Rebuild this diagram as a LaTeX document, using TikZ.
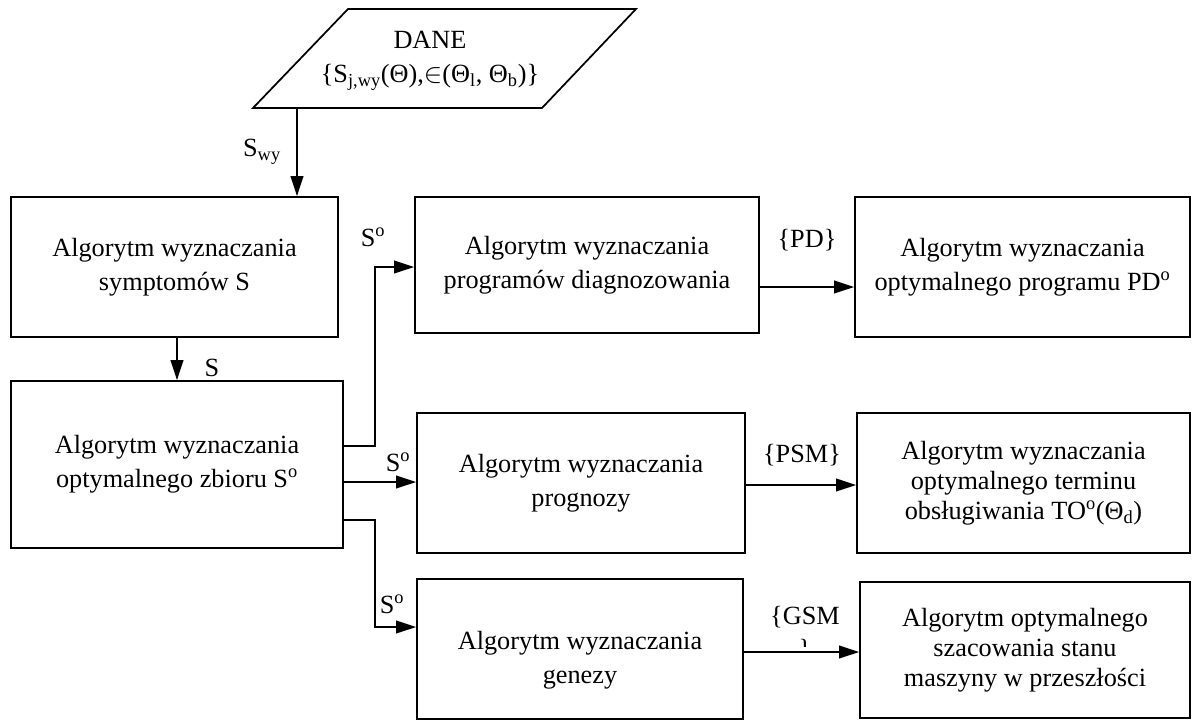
\documentclass[tikz,border=0pt]{standalone}
\usepackage{fontspec}
\setmainfont{Liberation Serif}
\usetikzlibrary{arrows.meta}
\tikzset{
  sz/.style 2 args={minimum width=#1*0.75pt, minimum height=#2*0.75pt},
  box/.style={draw, line width=1.3pt, rectangle, align=center, inner sep=0pt},
  three/.style={font=\fontsize{19.7}{22.5}\selectfont},
  conn/.style={line width=1.3pt},
  arr/.style={conn, -{Triangle[length=15pt,width=9.5pt]}},
  lbl/.style={inner sep=0pt, align=center}
}
\begin{document}
\begin{tikzpicture}[x=0.75pt,y=-0.75pt,
  every node/.style={font=\fontsize{19.7}{25.5}\selectfont}]
\useasboundingbox (0,0) rectangle (1204,719);

% data parallelogram
\coordinate (p1) at (253,108);
\coordinate (p2) at (542,108);
\coordinate (p3) at (636,9);
\coordinate (p4) at (348,9);
\draw[conn] (p1) -- (p2) -- (p3) -- (p4) -- cycle;
\node[lbl] (dane) at (430,61) {DANE\\\{S\textsubscript{j,wy}(Θ),$\in$(Θ\textsubscript{l}, Θ\textsubscript{b})\}};

% boxes
\node[box,sz={327}{140}] (b1) at (174.5,267) {Algorytm wyznaczania\\symptomów S};
\node[box,sz={332}{167}] (b2) at (177,464.5) {Algorytm wyznaczania\\optymalnego zbioru S\textsuperscript{o}};
\node[box,sz={344}{136}] (pd) at (587,265) {Algorytm wyznaczania\\programów diagnozowania};
\node[box,sz={335}{140}] (pdo) at (1022.5,267) {Algorytm wyznaczania\\optymalnego programu PD\textsuperscript{o}};
\node[box,sz={328}{140}] (pr) at (581,483) {Algorytm wyznaczania\\prognozy};
\node[box,three,sz={333}{140}] (to) at (1023.5,483) {Algorytm wyznaczania\\optymalnego terminu\\obsługiwania TO\textsuperscript{o}(Θ\textsubscript{d})};
\node[box,sz={326}{140}] (ge) at (580,649) {};
\node[lbl] (get) at (580,660) {Algorytm wyznaczania\\genezy};
\node[box,three,sz={330}{136}] (sz) at (1025,650) {Algorytm optymalnego\\szacowania stanu\\maszyny w przeszłości};

% connectors
\coordinate (dout) at (297,108);
\draw[arr] (dout) -- (dout |- b1.north);
\node[lbl] (lswy) at (262,152) {S\textsubscript{wy}};

\coordinate (s1) at (177,337);
\draw[arr] (s1) -- (s1 |- b2.north);
\node[lbl] (ls) at (212,368) {S};

\coordinate (u0) at (343,446);
\coordinate (ux) at (375,267);
\draw[arr] (u0) -| (ux) -- (ux -| pd.west);
\node[lbl] (lso1) at (373,237) {S\textsuperscript{o}};

\coordinate (m0) at (343,482);
\draw[arr] (m0) -- (m0 -| pr.west);
\node[lbl] (lso2) at (398,462) {S\textsuperscript{o}};

\coordinate (l0) at (343,520);
\coordinate (lx) at (375,627);
\draw[arr] (l0) -| (lx) -- (lx -| ge.west);
\node[lbl] (lso3) at (392,604) {S\textsuperscript{o}};

\coordinate (r1) at (759,287);
\draw[arr] (r1) -- (r1 -| pdo.west);
\node[lbl] (lpd) at (807,240) {\{PD\}};

\coordinate (r2) at (745,485);
\draw[arr] (r2) -- (r2 -| to.west);
\node[lbl] (lpsm) at (802,455) {\{PSM\}};

\coordinate (r3) at (743,652);
\draw[arr] (r3) -- (r3 -| sz.west);
\node[lbl] (lgsm) at (805,617) {\{GSM};
\begin{scope}
  \clip (790,636) rectangle (820,646);
  \node[lbl] (lgsmb) at (805,650) {\}};
\end{scope}
\end{tikzpicture}
\end{document}
